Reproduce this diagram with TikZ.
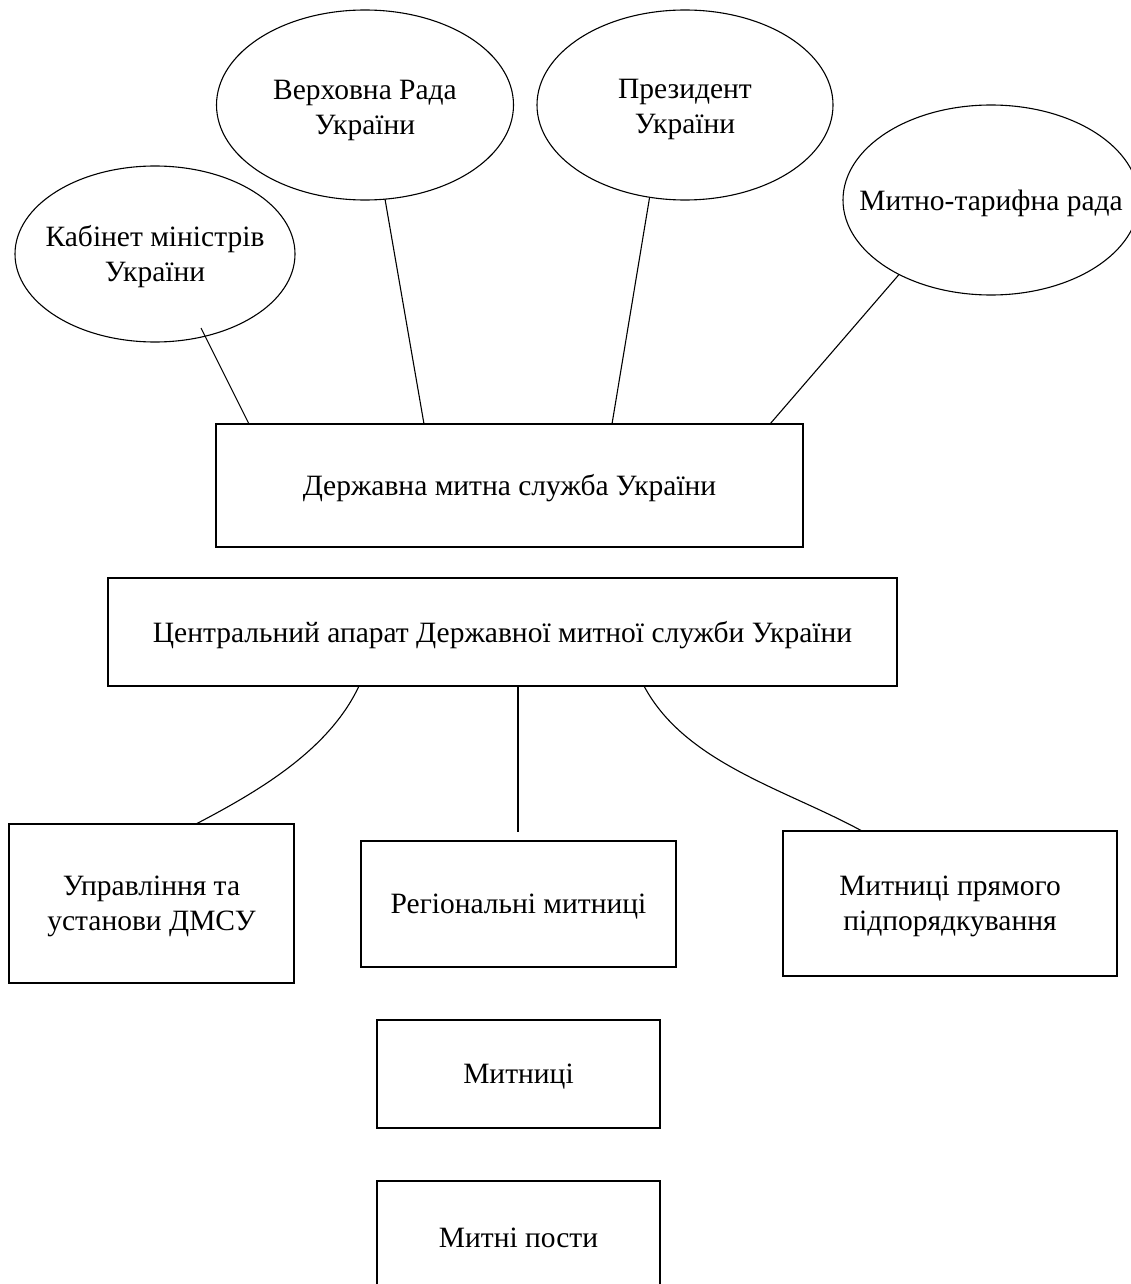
\documentclass[tikz,border=0pt]{standalone}
\usepackage{fontspec}
\setmainfont{Liberation Serif}
\usetikzlibrary{shapes.geometric}
\begin{document}
\begin{tikzpicture}[x=1pt,y=-1pt,
  ell/.style={draw, ellipse, line width=1.1pt, inner sep=0pt, outer sep=0pt},
  txt/.style={align=center, inner sep=0pt, font=\fontsize{29.5}{35}\selectfont},
  box/.style={draw, rectangle, line width=1.1pt, inner sep=0pt, outer sep=0pt},
  conn/.style={draw, line width=1.1pt}]
\useasboundingbox (0,0) rectangle (1131,1284);
\fill[white] (0,0) rectangle (1131,1284);
% ellipses
\node[ell, minimum width=280, minimum height=176] (kab) at (155,254) {};
\node[txt] (kabt) at ([yshift=-3]kab.center) {Кабінет міністрів\\України};
\node[ell, minimum width=297, minimum height=190] (vr) at (365,105) {};
\node[txt] (vrt) at ([yshift=-5]vr.center) {Верховна Рада\\України};
\node[ell, minimum width=296, minimum height=190] (pr) at (685,105) {};
\node[txt] (prt) at ([yshift=-4]pr.center) {Президент\\України};
\node[ell, minimum width=296, minimum height=190] (mt) at (991,200) {};
\node[txt] (mtt) at ([yshift=-3]mt.center) {Митно-тарифна рада};
% boxes
\node[box, minimum width=587, minimum height=123] (r1) at (509.5,485.5) {};
\node[txt] (r1t) at ([yshift=-3]r1.center) {Державна митна служба України};
\node[box, minimum width=789, minimum height=108] (r2) at (502.5,632) {};
\node[txt] (r2t) at ([yshift=-3]r2.center) {Центральний апарат Державної митної служби України};
\node[box, minimum width=285, minimum height=159] (r3) at (151.5,903.5) {};
\node[txt] (r3t) at ([yshift=-3]r3.center) {Управління та\\установи ДМСУ};
\node[box, minimum width=315, minimum height=126] (r4) at (518.5,904) {};
\node[txt] (r4t) at ([yshift=-3]r4.center) {Регіональні митниці};
\node[box, minimum width=334, minimum height=145] (r5) at (950,903.5) {};
\node[txt] (r5t) at ([yshift=-3]r5.center) {Митниці прямого\\підпорядкування};
\node[box, minimum width=283, minimum height=108] (r6) at (518.5,1074) {};
\node[txt] (r6t) at ([yshift=-3]r6.center) {Митниці};
\node[box, minimum width=283, minimum height=108] (r7) at (518.5,1235) {};
\node[txt] (r7t) at ([yshift=-3]r7.center) {Митні пости};
% connectors top
\coordinate (kabin) at (201,328);
\coordinate (midend) at (518,832);
\draw[conn] (kabin) -- ([xshift=33]r1.north west);
\draw[conn] (vr.-78.7) -- ([xshift=208]r1.north west);
\draw[conn] (pr.-111.4) -- ([xshift=396]r1.north west);
\draw[conn] (mt.-141.4) -- ([xshift=554]r1.north west);
% connectors bottom
\draw[conn] ([xshift=251]r2.south west) .. controls (329,750) and (259,791) .. ([xshift=187]r3.north west);
\draw[conn] ([xshift=15.5]r2.south) -- (midend);
\draw[conn] ([xshift=536]r2.south west) .. controls (685,763) and (785,789) .. ([xshift=79]r5.north west);
\end{tikzpicture}
\end{document}
